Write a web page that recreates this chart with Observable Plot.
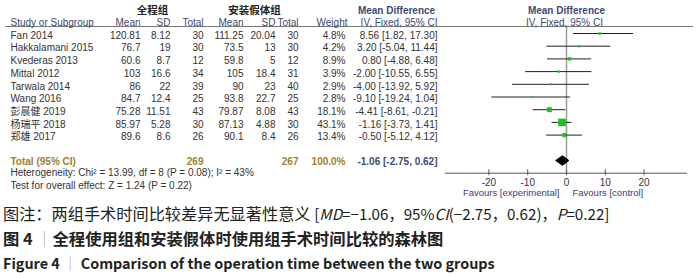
<!DOCTYPE html>
<html><head><meta charset="utf-8">
<script src="https://cdn.jsdelivr.net/npm/d3@7"></script>
<script src="https://cdn.jsdelivr.net/npm/@observablehq/plot@0.6"></script>
<style>
body{margin:0;background:#fff;}
#wrap{position:relative;width:700px;height:277px;overflow:hidden;background:#fff;}
#table,#forest{position:absolute;top:0;}
#table{left:0;} #forest{left:445px;}
.cap{position:absolute;left:3px;white-space:nowrap;font-family:"Noto Sans CJK SC","Noto Sans",sans-serif;color:#222;line-height:20px;}
.bar{color:#aaa;font-weight:normal;}
.lat{font-size:15.2px;}
</style></head><body>
<div id="wrap">
  <div id="table"></div>
  <div id="forest"></div>
  <div class="cap" style="top:203px;font-size:16.2px;">图注：两组手术时间比较差异无显著性意义 <span class="lat">[<i>MD</i>=−1.06，95%<i>CI</i>(−2.75，0.62)，<i>P</i>=0.22]</span></div>
  <div class="cap" style="top:228px;font-size:16.3px;font-weight:bold;">图 4 <span class="bar">｜</span>全程使用组和安装假体时使用组手术时间比较的森林图</div>
  <div class="cap" style="top:253px;font-size:14.4px;font-weight:bold;">Figure 4 <span class="bar">｜</span> Comparison of the operation time between the two groups</div>
</div>
<script>
// ---- data ----
const studies   = ["Fan 2014","Hakkalamani 2015","Kvederas 2013","Mittal 2012","Tarwala 2014","Wang 2016","彭晨健 2019","杨瑞平 2018","郑雄 2017"];
const expMean   = [120.81, 76.7, 60.6, 103, 86, 84.7, 75.28, 85.97, 89.6];
const expSD     = [8.12, 19, 8.7, 16.6, 22, 12.4, 11.51, 5.28, 8.6];
const expN      = [30, 30, 12, 34, 39, 25, 43, 30, 26];
const ctlMean   = [111.25, 73.5, 59.8, 105, 90, 93.8, 79.87, 87.13, 90.1];
const ctlSD     = [20.04, 13, 5, 18.4, 23, 22.7, 8.08, 4.88, 8.4];
const ctlN      = [30, 30, 12, 31, 40, 25, 43, 30, 26];
const weights   = [4.8, 4.2, 8.9, 3.9, 2.9, 2.8, 18.1, 43.1, 13.4];
const md        = [8.56, 3.20, 0.80, -2.00, -4.00, -9.10, -4.41, -1.16, -0.50];
const ciLow     = [1.82, -5.04, -4.88, -10.55, -13.92, -19.24, -8.61, -3.73, -5.12];
const ciHigh    = [17.30, 11.44, 6.48, 6.55, 5.92, 1.04, -0.21, 1.41, 4.12];
const totalN    = [269, 267];
const totalWeight = 100.0;
const totalMD   = [-1.06, -2.75, 0.62];
const groupNames = ["全程组", "安装假体组"];
const heterogeneityText = "Heterogeneity: Chi² = 13.99, df = 8 (P = 0.08); I² = 43%";
const overallText = "Test for overall effect: Z = 1.24 (P = 0.22)";
const favours = ["Favours [experimental]", "Favours [control]"];
const xTicks = [-20, -10, 0, 10, 20];

// ---- derived table ----
const f2 = v => v.toFixed(2);
const rows = studies.map((s, i) => ({
  i, study: s,
  m1: String(expMean[i]), s1: String(expSD[i]), n1: String(expN[i]),
  m2: String(ctlMean[i]), s2: String(ctlSD[i]), n2: String(ctlN[i]),
  w: weights[i].toFixed(1) + "%",
  ci: `${f2(md[i])} [${f2(ciLow[i])}, ${f2(ciHigh[i])}]`,
  md: md[i], lo: ciLow[i], hi: ciHigh[i], weight: weights[i]
}));
const totalIdx = studies.length + 1;
const hetIdx = totalIdx + 1;
const testIdx = hetIdx + 1;
const headerRule = -0.55;

const yScale = {domain: [0, 12], range: [33, 185.4], axis: null};
const font = "'Liberation Sans', Arial, 'Noto Sans CJK SC', sans-serif";
const dataCol = "#333";
const headCol = "#3b4b73";
const gold = "#a2802a";

const label = (txt, px, py, o = {}) => Plot.text([txt], {frameAnchor: "top-left", dx: px, dy: py, lineAnchor: "middle", textAnchor: "start", fill: headCol, ...o});
const col = (field, px, o = {}) => Plot.text(rows, {y: "i", text: field, frameAnchor: "left", dx: px, dy: 2, textAnchor: "end", fill: dataCol, ...o});

const table = Plot.plot({
  width: 445, height: 200, margin: 0,
  y: yScale,
  style: {fontFamily: font, fontSize: "10px", background: "transparent", overflow: "visible"},
  marks: [
    Plot.ruleY([headerRule], {stroke: "#777", strokeWidth: 1, insetLeft: 5}),
    label(groupNames[0], 152, 10, {textAnchor: "middle", fill: "#222", fontWeight: "bold", fontSize: 10.5}),
    label(groupNames[1], 254, 10, {textAnchor: "middle", fill: "#222", fontWeight: "bold", fontSize: 10.5}),
    label("Mean Difference", 396, 10, {textAnchor: "middle", fontWeight: "bold"}),
    label("Study or Subgroup", 10, 22),
    label("Mean", 140, 22, {textAnchor: "end"}),
    label("SD", 170, 22, {textAnchor: "end"}),
    label("Total", 203, 22, {textAnchor: "end"}),
    label("Mean", 243, 22, {textAnchor: "end"}),
    label("SD", 275, 22, {textAnchor: "end"}),
    label("Total", 298, 22, {textAnchor: "end"}),
    label("Weight", 347, 22, {textAnchor: "end"}),
    label("IV, Fixed, 95% CI", 437, 22, {textAnchor: "end"}),
    col("study", 10, {textAnchor: "start"}),
    col("m1", 140), col("s1", 170), col("n1", 203),
    col("m2", 243), col("s2", 275), col("n2", 298),
    col("w", 345), col("ci", 437),
    Plot.text(["Total (95% CI)"], {y: () => totalIdx, frameAnchor: "left", dx: 10, dy: 1, textAnchor: "start", fill: gold, fontWeight: "bold"}),
    Plot.text([String(totalN[0])], {y: () => totalIdx, frameAnchor: "left", dx: 203, dy: 1, textAnchor: "end", fill: gold, fontWeight: "bold"}),
    Plot.text([String(totalN[1])], {y: () => totalIdx, frameAnchor: "left", dx: 298, dy: 1, textAnchor: "end", fill: gold, fontWeight: "bold"}),
    Plot.text([totalWeight.toFixed(1) + "%"], {y: () => totalIdx, frameAnchor: "left", dx: 345, dy: 1, textAnchor: "end", fill: gold, fontWeight: "bold"}),
    Plot.text([`${f2(totalMD[0])} [${f2(totalMD[1])}, ${f2(totalMD[2])}]`], {y: () => totalIdx, frameAnchor: "left", dx: 437, dy: 1, textAnchor: "end", fill: headCol, fontWeight: "bold"}),
    Plot.text([heterogeneityText], {y: () => hetIdx, frameAnchor: "left", dx: 10, dy: 0, textAnchor: "start", fill: dataCol}),
    Plot.text([overallText], {y: () => testIdx, frameAnchor: "left", dx: 10, dy: 0, textAnchor: "start", fill: dataCol})
  ]
});
document.getElementById("table").append(table);

const axisIdx = hetIdx;
const diamondH = 0.38;
const diamond = [
  {x: totalMD[1], y: totalIdx}, {x: totalMD[0], y: totalIdx - diamondH},
  {x: totalMD[2], y: totalIdx}, {x: totalMD[0], y: totalIdx + diamondH},
  {x: totalMD[1], y: totalIdx}
];

const forest = Plot.plot({
  width: 255, height: 200, marginLeft: 0, marginRight: 13, marginTop: 0, marginBottom: 0,
  x: {domain: [-31.2, 31.2], axis: null},
  y: yScale,
  r: {range: [0, 4.3]},
  style: {fontFamily: font, fontSize: "10px", background: "transparent", overflow: "visible"},
  marks: [
    Plot.ruleY([headerRule], {stroke: "#777", strokeWidth: 1, insetRight: -6}),
    label("Mean Difference", 121, 10, {textAnchor: "middle", fontWeight: "bold"}),
    label("IV, Fixed, 95% CI", 119, 22, {textAnchor: "middle"}),
    Plot.ruleX([0], {y1: -0.48, y2: axisIdx, stroke: "#999", strokeWidth: 1.5}),
    Plot.ruleY(rows, {y: "i", x1: "lo", x2: "hi", stroke: "#222", strokeWidth: 1}),
    Plot.dot(rows, {x: "md", y: "i", r: "weight", symbol: "square", fill: "#1ec21e", stroke: null}),
    Plot.line(diamond, {x: "x", y: "y", fill: "#000", stroke: "#000", strokeWidth: 1}),
    Plot.ruleY([axisIdx], {stroke: "#555", strokeWidth: 1}),
    Plot.ruleX(xTicks, {x: d => d, y1: axisIdx - 0.27, y2: axisIdx + 0.2, stroke: "#555"}),
    Plot.text(xTicks, {x: d => d, y: () => axisIdx, dy: 10, text: d => String(d), fill: dataCol, textAnchor: "middle"}),
    Plot.text([favours[0]], {x: () => 0, y: () => axisIdx, dy: 20, dx: -7, text: d => d, textAnchor: "end", fill: "#3c3c7a", fontSize: 9.5}),
    Plot.text([favours[1]], {x: () => 0, y: () => axisIdx, dy: 20, dx: 6, text: d => d, textAnchor: "start", fill: "#3c3c7a", fontSize: 9.5})
  ]
});
document.getElementById("forest").append(forest);
</script>
</body></html>
